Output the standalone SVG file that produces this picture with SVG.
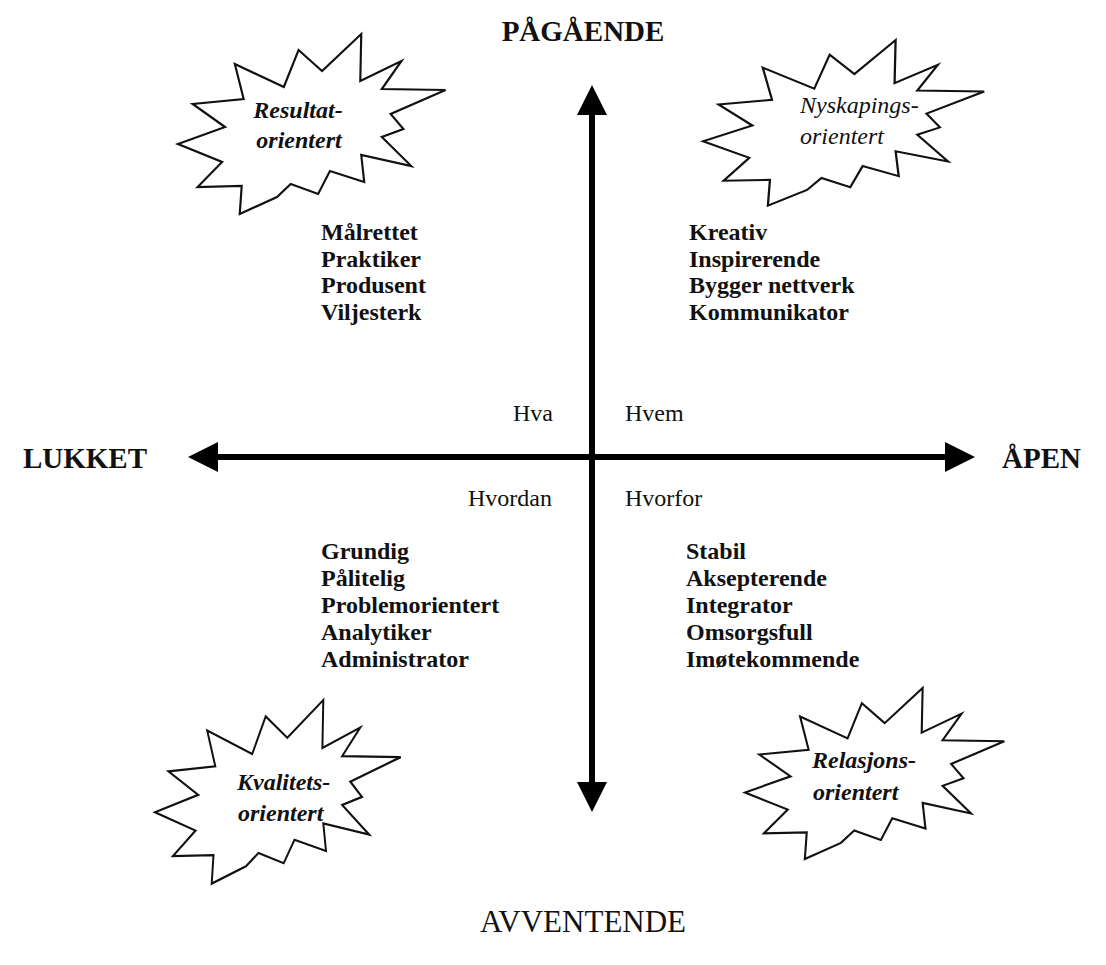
<svg xmlns="http://www.w3.org/2000/svg" xmlns:xlink="http://www.w3.org/1999/xlink" width="1106" height="965" viewBox="0 0 1106 965">
<style>
.axislabel{font-family:"Liberation Serif","Times New Roman",serif;font-size:29px;font-weight:bold;fill:#111}
.axislabel.reg{font-weight:normal;font-size:31px}
.q{font-family:"Liberation Serif","Times New Roman",serif;font-size:24px;fill:#111}
.lst{font-family:"Liberation Serif","Times New Roman",serif;font-size:24px;font-weight:bold;fill:#111}
.burst{fill:#fff;stroke:#111;stroke-width:2.2;stroke-linejoin:miter;vector-effect:non-scaling-stroke}
.bt{font-family:"Liberation Serif","Times New Roman",serif;font-size:24px;font-style:italic;font-weight:bold;fill:#111}
.bt.light{font-weight:normal}
.axis{stroke:#000;stroke-width:6;fill:none}
</style>
<defs>
<marker id="ah" viewBox="0 0 30 30" markerUnits="userSpaceOnUse" markerWidth="30" markerHeight="30" refX="18" refY="15" orient="auto-start-reverse">
<path d="M0,0 L30,15 L0,30 z" fill="#000"/>
</marker>
<polygon id="star" points="58,30 108,53 123,16 147,37 187,0 186,47 228,27 208,55 273,56 217,80 230,95 208,103 238,132 187,121 190,148 155,137 143,160 115,150 101,163 63,180 65,152 20,153 45,128 0,110 48,93 15,70 67,65"/>
</defs>
<rect width="1106" height="965" fill="#fff"/>

<g id="connectors">
<line class="axis" x1="592" y1="97" x2="592" y2="800" marker-start="url(#ah)" marker-end="url(#ah)"/>
<line class="axis" x1="200" y1="457" x2="963" y2="457" marker-start="url(#ah)" marker-end="url(#ah)"/>
</g>

<g id="label-pagaende"><text class="axislabel" x="583" y="41" text-anchor="middle">PÅGÅENDE</text></g>
<g id="label-avventende"><text class="axislabel reg" x="583" y="932" text-anchor="middle">AVVENTENDE</text></g>
<g id="label-lukket"><text class="axislabel" x="147" y="468" text-anchor="end">LUKKET</text></g>
<g id="label-apen"><text class="axislabel" x="1002" y="468">ÅPEN</text></g>

<g id="quadrant-words">
<text class="q" x="553" y="421" text-anchor="end">Hva</text>
<text class="q" x="625" y="421">Hvem</text>
<text class="q" x="552" y="506" text-anchor="end">Hvordan</text>
<text class="q" x="625" y="506">Hvorfor</text>
</g>

<g id="burst-resultat">
<use xlink:href="#star" class="burst" transform="translate(178,34) scale(0.98,1)"/>
<text class="bt" x="298" y="118" text-anchor="middle">Resultat-</text>
<text class="bt" x="299" y="148" text-anchor="middle">orientert</text>
</g>

<g id="burst-nyskapings">
<use xlink:href="#star" class="burst" transform="translate(703,40) scale(1.03,0.92)"/>
<text class="bt light" x="800" y="113">Nyskapings-</text>
<text class="bt light" x="800" y="144">orientert</text>
</g>

<g id="burst-kvalitets">
<use xlink:href="#star" class="burst" transform="translate(155,700) scale(0.9,1.02)"/>
<text class="bt" x="237" y="790">Kvalitets-</text>
<text class="bt" x="238" y="821">orientert</text>
</g>

<g id="burst-relasjons">
<use xlink:href="#star" class="burst" transform="translate(745,688) scale(0.95,0.95)"/>
<text class="bt" x="812" y="768">Relasjons-</text>
<text class="bt" x="813" y="800">orientert</text>
</g>

<g id="list-resultat">
<text class="lst" x="321" y="240">Målrettet</text>
<text class="lst" x="321" y="266.5">Praktiker</text>
<text class="lst" x="321" y="293">Produsent</text>
<text class="lst" x="321" y="319.5">Viljesterk</text>
</g>

<g id="list-nyskapings">
<text class="lst" x="689" y="240">Kreativ</text>
<text class="lst" x="689" y="266.5">Inspirerende</text>
<text class="lst" x="689" y="293">Bygger nettverk</text>
<text class="lst" x="689" y="319.5">Kommunikator</text>
</g>

<g id="list-kvalitets">
<text class="lst" x="321" y="559">Grundig</text>
<text class="lst" x="321" y="586">Pålitelig</text>
<text class="lst" x="321" y="613">Problemorientert</text>
<text class="lst" x="321" y="640">Analytiker</text>
<text class="lst" x="321" y="667">Administrator</text>
</g>

<g id="list-relasjons">
<text class="lst" x="686" y="559">Stabil</text>
<text class="lst" x="686" y="586">Aksepterende</text>
<text class="lst" x="686" y="613">Integrator</text>
<text class="lst" x="686" y="640">Omsorgsfull</text>
<text class="lst" x="686" y="667">Imøtekommende</text>
</g>
</svg>
